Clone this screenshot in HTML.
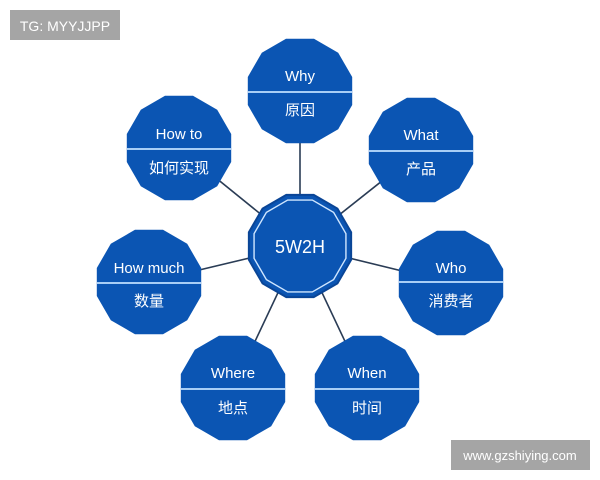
<!DOCTYPE html>
<html><head><meta charset="utf-8"><style>
body{margin:0;background:#fff;}
svg{display:block}
text{font-family:"Liberation Sans","Noto Sans CJK SC",sans-serif;fill:#fff;text-anchor:middle}
</style></head><body>
<svg width="600" height="480" viewBox="0 0 600 480" xmlns="http://www.w3.org/2000/svg">
<defs>
<polygon id="d" points="52.2,14 38.2,38.2 14,52.2 -14,52.2 -38.2,38.2 -52.2,14 -52.2,-14 -38.2,-38.2 -14,-52.2 14,-52.2 38.2,-38.2 52.2,-14" fill="#0b55b3"/>
</defs>
<rect x="10" y="10" width="110" height="30" fill="#a5a5a5"/>
<text x="65" y="31" font-size="14" style="text-anchor:middle">TG: MYYJJPP</text>
<rect x="451" y="440" width="139" height="30" fill="#a5a5a5"/>
<text x="520" y="460" font-size="13">www.gzshiying.com</text>
<g stroke="#2a3c55" stroke-width="1.6">
<line x1="300" y1="246" x2="300" y2="91"/>
<line x1="300" y1="246" x2="179" y2="148"/>
<line x1="300" y1="246" x2="421" y2="150"/>
<line x1="300" y1="246" x2="149" y2="282"/>
<line x1="300" y1="246" x2="451" y2="283"/>
<line x1="300" y1="246" x2="233" y2="388"/>
<line x1="300" y1="246" x2="367" y2="388"/>
</g>
<g>
<polygon points="52.2,14 38.2,38.2 14,52.2 -14,52.2 -38.2,38.2 -52.2,14 -52.2,-14 -38.2,-38.2 -14,-52.2 14,-52.2 38.2,-38.2 52.2,-14" fill="#0b55b3" stroke="#0a4596" stroke-width="2" transform="translate(300,246) scale(0.98)"/>
<polygon points="52.2,14 38.2,38.2 14,52.2 -14,52.2 -38.2,38.2 -52.2,14 -52.2,-14 -38.2,-38.2 -14,-52.2 14,-52.2 38.2,-38.2 52.2,-14" fill="none" stroke="#cfe6ff" stroke-width="1.6" transform="translate(300,246) scale(0.88)"/>
<text x="300" y="253" font-size="18">5W2H</text>
</g>
<g font-size="15">
<g transform="translate(300,91)"><use href="#d"/><line x1="-52" y1="1" x2="52" y2="1" stroke="#bfe0ff" stroke-width="1.8"/><text x="0" y="-10">Why</text><text x="0" y="24">原因</text></g>
<g transform="translate(179,148)"><use href="#d"/><line x1="-52" y1="1" x2="52" y2="1" stroke="#bfe0ff" stroke-width="1.8"/><text x="0" y="-9">How to</text><text x="0" y="25">如何实现</text></g>
<g transform="translate(421,150)"><use href="#d"/><line x1="-52" y1="1" x2="52" y2="1" stroke="#bfe0ff" stroke-width="1.8"/><text x="0" y="-10">What</text><text x="0" y="24">产品</text></g>
<g transform="translate(149,282)"><use href="#d"/><line x1="-52" y1="1" x2="52" y2="1" stroke="#bfe0ff" stroke-width="1.8"/><text x="0" y="-9">How much</text><text x="0" y="24">数量</text></g>
<g transform="translate(451,283)"><use href="#d"/><line x1="-52" y1="-1" x2="52" y2="-1" stroke="#bfe0ff" stroke-width="1.8"/><text x="0" y="-10">Who</text><text x="0" y="23">消费者</text></g>
<g transform="translate(233,388)"><use href="#d"/><line x1="-52" y1="1" x2="52" y2="1" stroke="#bfe0ff" stroke-width="1.8"/><text x="0" y="-10">Where</text><text x="0" y="25">地点</text></g>
<g transform="translate(367,388)"><use href="#d"/><line x1="-52" y1="1" x2="52" y2="1" stroke="#bfe0ff" stroke-width="1.8"/><text x="0" y="-10">When</text><text x="0" y="25">时间</text></g>
</g>
</svg>
</body></html>
